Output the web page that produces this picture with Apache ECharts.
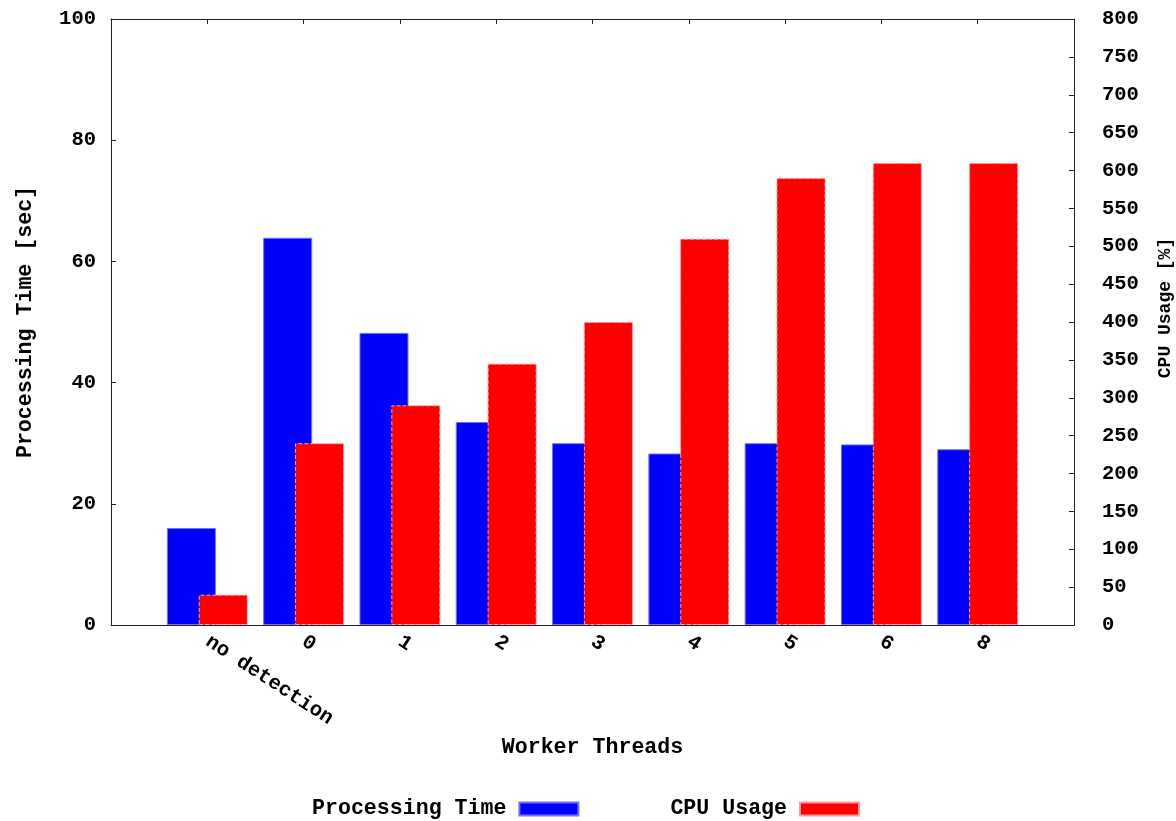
<!DOCTYPE html>
<html>
<head>
<meta charset="utf-8">
<script src="https://cdn.jsdelivr.net/npm/echarts@6/dist/echarts.min.js"></script>
<style>
html,body{margin:0;padding:0;background:#fff;}
#chart{width:1176px;height:821px;}
</style>
</head>
<body>
<div id="chart"></div>
<script>
const categories = ['no detection', '0', '1', '2', '3', '4', '5', '6', '8'];
const processingTime = [16.0, 63.9, 48.2, 33.5, 30.0, 28.3, 30.0, 29.8, 29.0];
const cpuUsage = [40, 240, 290, 345, 400, 510, 590, 610, 610];
const leftTicks = { min: 0, max: 100, interval: 20 };
const rightTicks = { min: 0, max: 800, interval: 50 };

const FONT = "'Liberation Mono', 'Courier New', monospace";
const axisColor = '#222';

const chart = echarts.init(document.getElementById('chart'));

const xCommon = {
  type: 'value',
  min: -1,
  max: categories.length,
  interval: 1,
  splitLine: { show: false },
  axisLine: { show: true, onZero: false, lineStyle: { color: axisColor, width: 1 } },
  axisTick: { show: true, inside: true, length: 5, lineStyle: { color: axisColor } }
};

chart.setOption({
  animation: false,
  backgroundColor: '#fff',
  grid: { left: 111, right: 102, top: 19, bottom: 196, containLabel: false },
  xAxis: [
    Object.assign({}, xCommon, {
      position: 'bottom',
      name: 'Worker Threads',
      nameLocation: 'middle',
      nameGap: 112,
      nameTextStyle: { fontFamily: FONT, fontWeight: 'bold', fontSize: 21.6, color: '#000' },
      axisLabel: {
        show: true,
        rotate: -33,
        margin: 15,
        fontFamily: FONT, fontWeight: 'bold', fontSize: 20.5, color: '#000',
        formatter: function (v) {
          const i = Math.round(v);
          return (i >= 0 && i < categories.length && Math.abs(v - i) < 1e-6) ? categories[i] : '';
        }
      }
    }),
    Object.assign({}, xCommon, {
      position: 'top',
      axisLabel: { show: false }
    })
  ],
  yAxis: [
    {
      type: 'value',
      position: 'left',
      min: leftTicks.min, max: leftTicks.max, interval: leftTicks.interval,
      name: 'Processing Time [sec]',
      nameLocation: 'middle',
      nameGap: 74,
      nameTextStyle: { fontFamily: FONT, fontWeight: 'bold', fontSize: 21.6, color: '#000' },
      splitLine: { show: false },
      axisLine: { show: true, onZero: false, lineStyle: { color: axisColor, width: 1 } },
      axisTick: { show: true, inside: true, length: 5, lineStyle: { color: axisColor } },
      axisLabel: { margin: 15, fontFamily: FONT, fontWeight: 'bold', fontSize: 20.5, color: '#000' }
    },
    {
      type: 'value',
      position: 'right',
      min: rightTicks.min, max: rightTicks.max, interval: rightTicks.interval,
      splitLine: { show: false },
      axisLine: { show: true, onZero: false, lineStyle: { color: axisColor, width: 1 } },
      axisTick: { show: true, inside: true, length: 5, lineStyle: { color: axisColor } },
      axisLabel: { margin: 28, fontFamily: FONT, fontWeight: 'bold', fontSize: 20.5, color: '#000' }
    }
  ],
  legend: {
    left: 307,
    top: 793,
    align: 'right',
    itemWidth: 59,
    itemHeight: 13,
    itemGap: 91,
    icon: 'rect',
    textStyle: { fontFamily: FONT, fontWeight: 'bold', fontSize: 21.6, color: '#000', padding: [0, 8, 0, 0] },
    data: ['Processing Time', 'CPU Usage']
  },
  graphic: [
    {
      type: 'text',
      x: 1165,
      y: 308,
      rotation: Math.PI / 2,
      style: {
        text: 'CPU Usage [%]',
        fontFamily: FONT, fontWeight: 'bold', fontSize: 18,
        fill: '#000',
        align: 'center',
        verticalAlign: 'middle'
      }
    }
  ],
  series: [
    {
      name: 'Processing Time',
      type: 'bar',
      xAxisIndex: 0,
      yAxisIndex: 0,
      barWidth: 49,
      barGap: '-35%',
      itemStyle: { color: '#0000ff', borderColor: '#7070ff', borderWidth: 1 },
      data: processingTime.map((v, i) => [i, v])
    },
    {
      name: 'CPU Usage',
      type: 'bar',
      xAxisIndex: 0,
      yAxisIndex: 1,
      barWidth: 49,
      barGap: '-35%',
      itemStyle: { color: '#ff0000', borderColor: '#ff9a9a', borderWidth: 1, borderType: 'dashed' },
      data: cpuUsage.map((v, i) => [i, v])
    }
  ]
});
</script>
</body>
</html>
